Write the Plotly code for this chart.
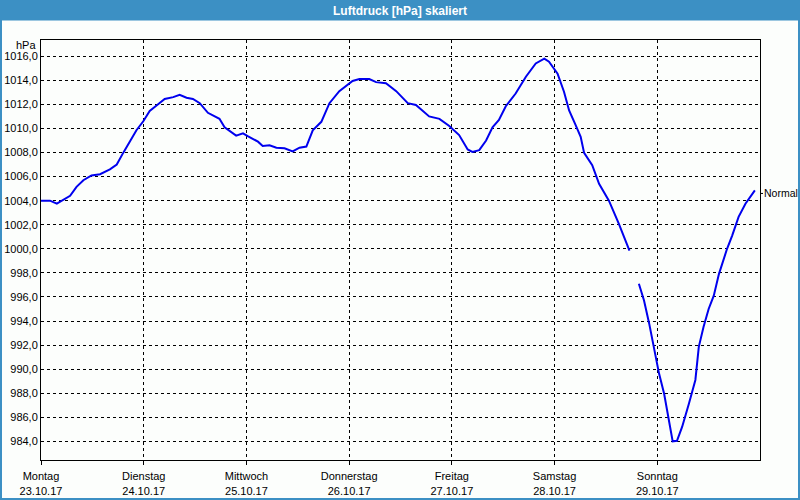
import plotly.graph_objects as go
import pandas as pd

# hours since Monday 23.10.2017 00:00
hours = [0, 2.1, 3.7, 5.2, 6.8, 8.3, 9.9, 11.8, 13.8, 16.1, 17.7, 19.2, 20.8, 22.3, 23.9,
         25.4, 27.0, 28.9, 30.9, 32.4, 34.0, 35.5, 37.1, 39.0, 41.7, 42.9, 45.6, 47.2, 48.4,
         50.7, 51.8, 53.4, 55.0, 56.9, 58.8, 60.4, 62.0, 63.5, 65.5, 67.4, 69.7, 71.3, 72.8,
         74.4, 76.7, 78.3, 80.6, 83.0, 85.7, 87.6, 90.7, 93.1, 95.4, 97.7, 99.7, 100.8, 102.4,
         104.0, 105.5, 107.0, 108.6, 110.9, 113.3, 115.6, 117.6, 118.7, 120.7, 122.2, 123.4,
         124.9, 126.1, 126.9, 128.8, 130.4, 132.7, 135.0, 137.5,
         138.6,
         139.7, 140.9, 142.1, 143.2, 144.4, 145.6, 146.7, 147.6, 148.6, 149.8, 151.4, 152.9,
         153.7, 154.8, 156.0, 157.2, 158.4, 160.3, 161.5, 163.0, 164.6, 165.8, 166.8]
pressure = [1004.0, 1004.0, 1003.75, 1004.1, 1004.4, 1005.15, 1005.7, 1006.1, 1006.2, 1006.6,
            1007.0, 1007.97, 1009.0, 1009.85, 1010.6, 1011.45, 1011.9, 1012.45, 1012.6, 1012.8,
            1012.55, 1012.45, 1012.1, 1011.3, 1010.8, 1010.1, 1009.4, 1009.6, 1009.35, 1008.9,
            1008.55, 1008.6, 1008.4, 1008.35, 1008.1, 1008.4, 1008.5, 1009.85, 1010.55, 1012.1,
            1013.1, 1013.55, 1013.95, 1014.1, 1014.1, 1013.85, 1013.75, 1013.1, 1012.1, 1011.95,
            1011.0, 1010.8, 1010.2, 1009.45, 1008.25, 1008.05, 1008.2, 1009.0, 1010.1, 1010.7,
            1011.85, 1012.9, 1014.3, 1015.4, 1015.8, 1015.55, 1014.55, 1013.05, 1011.5, 1010.3,
            1009.3, 1007.97, 1006.95, 1005.4, 1004.0, 1002.1, 999.85,
            None,
            997.1, 995.7, 993.8, 991.85, 989.65, 987.95, 985.75, 984.0, 984.05, 985.2, 987.15,
            989.1, 991.85, 993.5, 995.0, 996.1, 997.9, 1000.0, 1001.1, 1002.65, 1003.75,
            1004.35, 1004.85]

day_names = ["Montag", "Dienstag", "Mittwoch", "Donnerstag", "Freitag", "Samstag", "Sonntag"]
day_dates = ["23.10.17", "24.10.17", "25.10.17", "26.10.17", "27.10.17", "28.10.17", "29.10.17"]
y_ticks = [984, 986, 988, 990, 992, 994, 996, 998, 1000, 1002, 1004, 1006, 1008, 1010, 1012, 1014, 1016]
normal_hpa = 1004.6
title_text = "Luftdruck [hPa] skaliert"

start = pd.Timestamp("2017-10-23 00:00")
x_times = [start + pd.Timedelta(hours=h) for h in hours]
day_ticks = [start + pd.Timedelta(days=i) for i in range(len(day_names))]

FONT = "Liberation Sans"
BLUE = "#3c90c4"
BG = "#fcfefc"

fig = go.Figure()
fig.add_trace(go.Scatter(x=x_times, y=pressure, mode="lines",
                         line=dict(color="#0000ee", width=2), connectgaps=False,
                         hoverinfo="skip", showlegend=False))

W, H = 800, 500
L, R, T, B = 41, 40, 40, 40
pw, ph = W - L - R, H - T - B

def px(xp):
    return (xp - L) / pw

def py(yp):
    return (H - B - yp) / ph

fig.update_layout(
    width=W, height=H,
    margin=dict(l=L, r=R, t=T, b=B, pad=0, autoexpand=False),
    paper_bgcolor=BG, plot_bgcolor=BG,
    font=dict(family=FONT, size=11, color="#000000"),
    showlegend=False,
)
fig.update_xaxes(
    type="date", automargin=False,
    range=[start, start + pd.Timedelta(days=7)],
    tickvals=day_ticks,
    ticktext=[f"{n}<br>{d}" for n, d in zip(day_names, day_dates)],
    ticks="outside", ticklen=4, tickcolor="#000000", tickwidth=1,
    ticklabelstandoff=2,
    showgrid=True, gridcolor="#000000", gridwidth=1, griddash="3px,3px",
    showline=True, linecolor="#000000", linewidth=1, mirror=True,
    zeroline=False, tickfont=dict(size=11, family=FONT),
)
fig.update_yaxes(
    automargin=False,
    range=[982.45, 1017.35],
    tickvals=y_ticks,
    ticktext=[f"{v:.1f}".replace(".", ",") for v in y_ticks],
    ticks="outside", ticklen=0,
    showgrid=True, gridcolor="#000000", gridwidth=1, griddash="3px,3px",
    showline=True, linecolor="#000000", linewidth=1, mirror=True,
    zeroline=False, tickfont=dict(size=11, family=FONT),
)

shapes = [
    # title bar
    dict(type="rect", xref="paper", yref="paper", x0=px(0), x1=px(800), y0=py(20.5), y1=py(0),
         fillcolor=BLUE, line=dict(width=0), layer="above"),
    # outer frame
    dict(type="rect", xref="paper", yref="paper", x0=px(1), x1=px(799), y0=py(499), y1=py(0),
         fillcolor="rgba(0,0,0,0)", line=dict(color=BLUE, width=2), layer="above"),
    # normal marker tick
    dict(type="line", xref="paper", yref="y", x0=px(760), x1=px(763), y0=normal_hpa, y1=normal_hpa,
         line=dict(color="#000000", width=1)),
]
annotations = [
    dict(text=f"<b>{title_text}</b>", xref="paper", yref="paper", x=px(400), y=py(10.5),
         showarrow=False, font=dict(color="#ffffff", size=12, family=FONT), xanchor="center", yanchor="middle"),
    dict(text="hPa", xref="paper", yref="paper", x=px(38), y=py(45), showarrow=False,
         xanchor="right", yanchor="middle", font=dict(size=11, family=FONT)),
    dict(text="Normal", xref="paper", yref="y", x=px(762), y=normal_hpa, showarrow=False,
         xanchor="left", yanchor="middle", font=dict(size=10.5, family=FONT)),
]
fig.update_layout(shapes=shapes, annotations=annotations)

fig.write_html("out.html")
